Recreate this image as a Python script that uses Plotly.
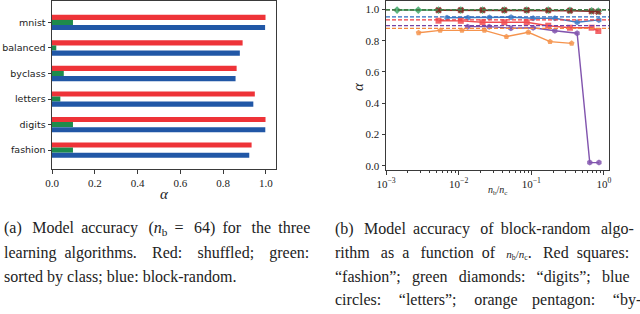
import plotly.graph_objects as go

W, H = 640, 314

# ---------------- Left chart data (a) ----------------
datasets = ["fashion", "digits", "letters", "byclass", "balanced", "mnist"]
acc_shuffled = [0.933, 0.998, 0.948, 0.863, 0.891, 0.998]
acc_sorted = [0.098, 0.098, 0.039, 0.055, 0.020, 0.098]
acc_block = [0.922, 0.997, 0.941, 0.858, 0.878, 0.996]
left_ticks = [0.0, 0.2, 0.4, 0.6, 0.8, 1.0]
left_ticklabels = ["0.0", "0.2", "0.4", "0.6", "0.8", "1.0"]

# ---------------- Right chart data (b) ----------------
digits_x = [0.00142, 0.00278, 0.00528, 0.0107, 0.0213, 0.0425, 0.0865, 0.171, 0.340, 0.676, 0.835]
digits_y = [0.996, 0.996, 0.996, 0.996, 0.996, 0.996, 0.996, 0.995, 0.994, 0.991, 0.989]
mnist_x = [0.00528, 0.0107, 0.0213, 0.0425, 0.0865, 0.171, 0.340, 0.676, 0.835]
mnist_y = [0.995, 0.995, 0.995, 0.995, 0.995, 0.994, 0.992, 0.988, 0.985]
fashion_x = [0.00528, 0.0107, 0.0213, 0.0425, 0.0865, 0.171, 0.340, 0.676, 0.835]
fashion_y = [0.928, 0.927, 0.918, 0.918, 0.918, 0.896, 0.883, 0.883, 0.862]
letters_x = [0.0069, 0.0134, 0.0265, 0.0526, 0.106, 0.211, 0.428, 0.851]
letters_y = [0.947, 0.947, 0.948, 0.950, 0.944, 0.944, 0.918, 0.933]
byclass_x = [0.00281, 0.00557, 0.0111, 0.0226, 0.0454, 0.0910, 0.181, 0.359]
byclass_y = [0.851, 0.866, 0.866, 0.866, 0.826, 0.854, 0.794, 0.783]
balanced_x = [0.0133, 0.0263, 0.0523, 0.106, 0.2105, 0.427, 0.637, 0.853]
balanced_y = [0.890, 0.890, 0.880, 0.883, 0.864, 0.848, 0.020, 0.020]
# shuffled baselines (dashed)
baseline_names = ["mnist", "digits", "letters", "fashion", "balanced", "byclass"]
baseline_vals = [0.998, 0.997, 0.952, 0.933, 0.897, 0.879]

right_yticks = [0.0, 0.2, 0.4, 0.6, 0.8, 1.0]
right_yticklabels = ["0.0", "0.2", "0.4", "0.6", "0.8", "1.0"]
right_xticks = [0.001, 0.01, 0.1, 1]
right_xticklabels = ["10<sup>\u22123</sup>", "10<sup>\u22122</sup>", "10<sup>\u22121</sup>", "10<sup>0</sup>"]

RED, GREEN, BLUE = "#EE3338", "#1E8B4C", "#2157A6"
C = {
    "fashion": "#EE3A3E",
    "digits": "#2CA05A",
    "letters": "#2F6EBF",
    "byclass": "#F5883A",
    "balanced": "#7442A6",
    "mnist": "#8B1A1A",
}
SERIF = "Liberation Serif"
SANS = "DejaVu Sans"
AX = "#3a3a3a"

fig = go.Figure()

pos = list(range(len(datasets)))
bw = 0.2
fig.add_trace(go.Bar(y=pos, x=acc_shuffled, orientation="h", width=bw, offset=0.1,
                     marker=dict(color=RED, line=dict(width=0)), xaxis="x", yaxis="y"))
fig.add_trace(go.Bar(y=pos, x=acc_sorted, orientation="h", width=bw, offset=-0.1,
                     marker=dict(color=GREEN, line=dict(width=0)), xaxis="x", yaxis="y"))
fig.add_trace(go.Bar(y=pos, x=acc_block, orientation="h", width=bw, offset=-0.3,
                     marker=dict(color=BLUE, line=dict(width=0)), xaxis="x", yaxis="y"))

series = [
    ("byclass", byclass_x, byclass_y, "pentagon"),
    ("balanced", balanced_x, balanced_y, "hexagon"),
    ("letters", letters_x, letters_y, "hexagon"),
    ("fashion", fashion_x, fashion_y, "square"),
    ("digits", digits_x, digits_y, "diamond"),
    ("mnist", mnist_x, mnist_y, "x"),
]
for name, xs, ys, sym in series:
    fig.add_trace(go.Scatter(
        x=xs, y=ys, mode="lines+markers", xaxis="x2", yaxis="y2",
        line=dict(color=C[name], width=1.4),
        marker=dict(symbol=sym, size=6, color=C[name], opacity=0.85),
        opacity=0.9,
    ))

shapes = []
for name, v in zip(baseline_names, baseline_vals):
    shapes.append(dict(type="line", xref="x2 domain", yref="y2", x0=0, x1=1, y0=v, y1=v,
                       line=dict(color=C[name], width=1.3, dash="4px,2px"), layer="above"))

dom_l = [52 / W, 276 / W]
dom_r = [386 / W, 609 / W]
ydom = [1 - 169 / H, 1 - 1 / H]
ydom_r = [1 - 170 / H, 1 - 1 / H]

axis_common = dict(showline=True, linecolor=AX, linewidth=1, mirror=True, ticks="outside",
                   ticklen=3.5, tickcolor=AX, showgrid=False, zeroline=False, automargin=False)

fig.update_layout(
    template="none",
    width=W, height=H, margin=dict(l=0, r=0, t=0, b=0, pad=0),
    paper_bgcolor="white", plot_bgcolor="white", showlegend=False, barmode="overlay",
    hovermode=False,
    xaxis=dict(domain=dom_l, range=[0, 1.047], tickvals=left_ticks, ticktext=left_ticklabels,
               tickfont=dict(family=SERIF, size=11, color="#222"), anchor="y", **axis_common),
    yaxis=dict(domain=ydom, range=[-0.74, 5.84], tickvals=pos, ticktext=datasets,
               tickfont=dict(family=SANS, size=9.5, color="#222"), anchor="x", **axis_common),
    xaxis2=dict(domain=dom_r, type="log", range=[-3, 0.069], tickvals=right_xticks,
                ticktext=right_xticklabels, tickfont=dict(family=SERIF, size=11, color="#222"),
                anchor="y2",
                minor=dict(tickvals=[k * 10 ** e for e in (-3, -2, -1) for k in range(2, 10)],
                           ticks="outside", ticklen=2, tickcolor=AX),
                **axis_common),
    yaxis2=dict(domain=ydom_r, range=[-0.0275, 1.054], tickvals=right_yticks,
                ticktext=right_yticklabels, tickfont=dict(family=SERIF, size=11, color="#222"),
                anchor="x2", **axis_common),
    shapes=shapes,
)

def px(x, y):
    return x / W, 1 - y / H

ann = []
def add_text(x, y, text, size=16, family=SERIF, xanchor="left", angle=0, color="#222"):
    ax, ay = px(x, y)
    ann.append(dict(x=ax, y=ay, xref="paper", yref="paper", text=text, showarrow=False,
                    xanchor=xanchor, yanchor="middle", textangle=angle,
                    font=dict(family=family, size=size, color=color)))

add_text(164, 194, "<i>\u03b1</i>", size=15, xanchor="center")
add_text(358, 87, "<i>\u03b1</i>", size=15, xanchor="center", angle=-90)
add_text(497, 190, "<i>n</i><sub>b</sub>/<i>n</i><sub>c</sub>", size=10, xanchor="center")

T = "\u2009"   # thin space
N = "\u00a0"   # no-break space
caption_a = [
    f"(a){T}{T} Model{T} accuracy{T}{T} (<i>n</i><sub>b</sub>{T} ={T}{T} 64){T} for{T}{T} the{T} three",
    f"learning{N} algorithms.{N}{N}{T} Red:{N}{N}{T} shuffled;{N}{N}{T} green:",
    "sorted by class; blue: block-random.",
]
caption_b = [
    f"(b){T}{T} Model{T} accuracy{T}{T} of{T} block-random{T}{T} algo-",
    f"rithm{N}{T} as{N} a{N}{T} function{N} of{N}{T} <span style='font-size:11px'><i>n</i><sub>b</sub>/<i>n</i><sub>c</sub></span>.{N}{T} Red{N} squares:",
    f"\u201cfashion\u201d;{N}{T} green{N}{T} diamonds:{N}{T} \u201cdigits\u201d;{N}{T} blue",
    f"circles:{N}{T}{T}{T} \u201cletters\u201d;{N}{T}{T}{T} orange{N}{T}{T} pentagon:{N}{T}{T}{T} \u201cby-",
]
line_y = [229, 253, 277, 300]
for t, yy in zip(caption_a, line_y):
    add_text(2, yy, t)
for t, yy in zip(caption_b, line_y):
    add_text(333, yy, t)

fig.update_layout(annotations=ann)
fig.write_html("out.html", config={"displayModeBar": False, "staticPlot": True},
               post_script="document.body.style.margin='0';document.body.style.overflow='hidden';")
